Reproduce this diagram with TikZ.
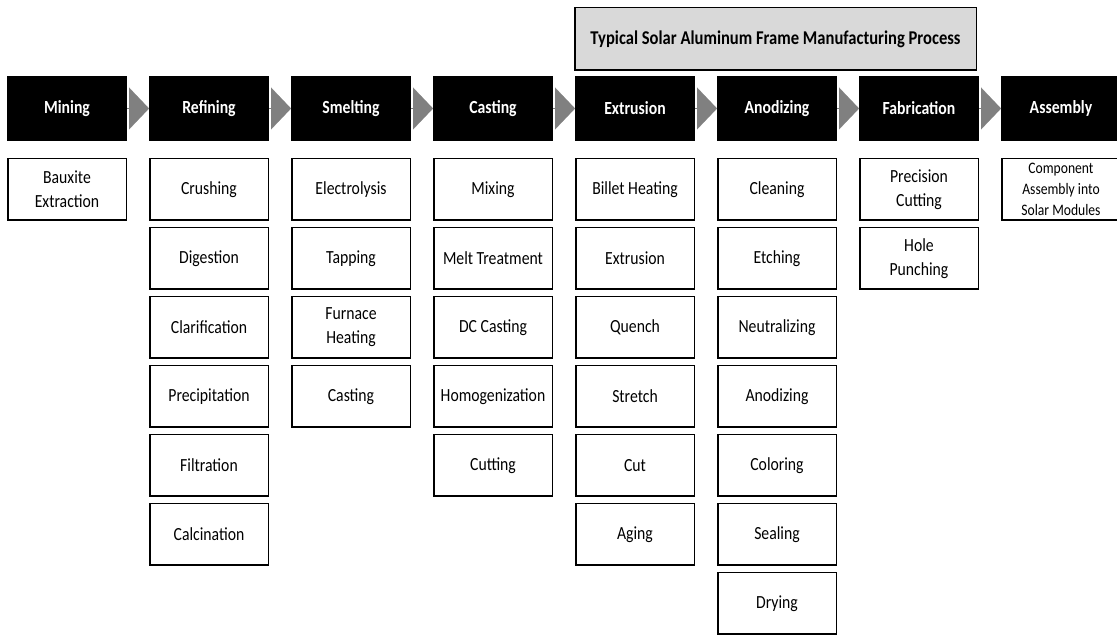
\documentclass[tikz,border=0pt]{standalone}
\usepackage{fontspec}
\setmainfont{Carlito}[FakeStretch=0.85]
\usetikzlibrary{positioning,arrows.meta}

\begin{document}
\begin{tikzpicture}[x=1pt,y=1pt,
		header/.style={fill=black, text=white, font=\fontsize{18.5}{21}\selectfont\bfseries,
			minimum width=120pt, minimum height=65pt, inner sep=0pt, outer sep=0pt},
		stepbox/.style={draw=black, fill=white, line width=1.5pt, align=center,
			font=\fontsize{18.5}{24}\selectfont, minimum width=118.5pt, minimum height=61.5pt, inner sep=0pt},
		titlebox/.style={draw=black, fill=black!15, line width=1.5pt,
			font=\fontsize{19.5}{22}\selectfont\bfseries, minimum width=401.5pt, minimum height=62.5pt},
		steparrow/.style={-{Triangle[length=20pt,width=42pt]}, draw=black!50, line width=0.1pt}
	]
		\useasboundingbox (0,0) rectangle (1117,637);

		% main steps
		\node[header] (mining) at (67,528.5) {Mining};
		\node[header, right=22pt of mining] (refining) {Refining};
		\node[header, right=22pt of refining] (smelting) {Smelting};
		\node[header, right=22pt of smelting] (casting) {Casting};
		\node[header, right=22pt of casting] (extrusion) {Extrusion};
		\node[header, right=22pt of extrusion] (anodizing) {Anodizing};
		\node[header, right=22pt of anodizing] (fabrication) {Fabrication};
		\node[header, right=22pt of fabrication] (assembly) {Assembly};

		\node[titlebox, above right=5pt and -1pt of extrusion.north west] (title) {Typical Solar Aluminum Frame Manufacturing Process};

		\draw[steparrow] (mining) -- (refining);
		\draw[steparrow] (refining) -- (smelting);
		\draw[steparrow] (smelting) -- (casting);
		\draw[steparrow] (casting) -- (extrusion);
		\draw[steparrow] (extrusion) -- (anodizing);
		\draw[steparrow] (anodizing) -- (fabrication);
		\draw[steparrow] (fabrication) -- (assembly);

		% mining
		\node[stepbox, below=17pt of mining] (bauxite) {Bauxite\\Extraction};

		% refining
		\node[stepbox, below=17pt of refining] (crushing) {Crushing};
		\node[stepbox, below=6pt of crushing] (digestion) {Digestion};
		\node[stepbox, below=6pt of digestion] (clarification) {Clarification};
		\node[stepbox, below=6pt of clarification] (precipitation) {Precipitation};
		\node[stepbox, below=6pt of precipitation] (filtration) {Filtration};
		\node[stepbox, below=6pt of filtration] (calcination) {Calcination};

		% smelting
		\node[stepbox, below=17pt of smelting] (electrolysis) {Electrolysis};
		\node[stepbox, below=6pt of electrolysis] (tapping) {Tapping};
		\node[stepbox, below=6pt of tapping] (furnace) {Furnace\\Heating};
		\node[stepbox, below=6pt of furnace] (smeltcasting) {Casting};

		% casting
		\node[stepbox, below=17pt of casting] (mixing) {Mixing};
		\node[stepbox, below=6pt of mixing] (melt) {Melt Treatment};
		\node[stepbox, below=6pt of melt] (dccasting) {DC Casting};
		\node[stepbox, below=6pt of dccasting] (homogenization) {Homogenization};
		\node[stepbox, below=6pt of homogenization] (cutting) {Cutting};

		% extrusion
		\node[stepbox, below=17pt of extrusion] (billet) {Billet Heating};
		\node[stepbox, below=6pt of billet] (extrude) {Extrusion};
		\node[stepbox, below=6pt of extrude] (quench) {Quench};
		\node[stepbox, below=6pt of quench] (stretch) {Stretch};
		\node[stepbox, below=6pt of stretch] (cut) {Cut};
		\node[stepbox, below=6pt of cut] (aging) {Aging};

		% anodizing
		\node[stepbox, below=17pt of anodizing] (cleaning) {Cleaning};
		\node[stepbox, below=6pt of cleaning] (etching) {Etching};
		\node[stepbox, below=6pt of etching] (neutralizing) {Neutralizing};
		\node[stepbox, below=6pt of neutralizing] (anodize) {Anodizing};
		\node[stepbox, below=6pt of anodize] (coloring) {Coloring};
		\node[stepbox, below=6pt of coloring] (sealing) {Sealing};
		\node[stepbox, below=6pt of sealing] (drying) {Drying};

		% fabrication
		\node[stepbox, below=17pt of fabrication] (precision) {Precision\\Cutting};
		\node[stepbox, below=6pt of precision] (punching) {Hole\\Punching};

		% assembly
		\node[stepbox, below=17pt of assembly, font=\fontsize{16}{21}\selectfont] (component) {Component\\Assembly into\\Solar Modules};
	\end{tikzpicture}
\end{document}
